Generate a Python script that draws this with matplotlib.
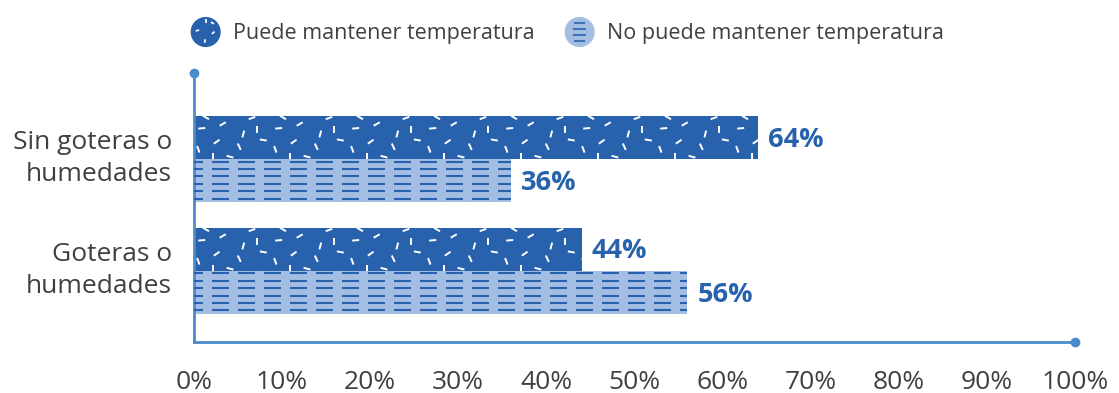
import matplotlib
matplotlib.use("Agg")
from matplotlib import pyplot as plt
from matplotlib.patches import Circle, Patch
from matplotlib.collections import LineCollection
from matplotlib.legend_handler import HandlerPatch
from matplotlib.transforms import ScaledTranslation
import numpy as np

plt.rcParams["font.family"] = ["Open Sans", "DejaVu Sans"]

categories = ["Sin goteras o\nhumedades", "Goteras o\nhumedades"]
puede = [64, 44]
no_puede = [36, 56]
series_names = ["Puede mantener temperatura", "No puede mantener temperatura"]
xticks = [0, 10, 20, 30, 40, 50, 60, 70, 80, 90, 100]

dark_blue = "#2862ad"
light_blue = "#a3bde3"
axis_blue = "#4a8bcb"
text_gray = "#404040"

W, H, DPI = 1119, 393, 100
fig = plt.figure(figsize=(W / DPI, H / DPI), dpi=DPI)
ax = fig.add_axes([194 / W, 1 - 342 / H, (1075 - 194) / W, (342 - 73) / H])

ymin, ymax = -0.634, 1.768
ax.set_xlim(0, 100)
ax.set_ylim(ymin, ymax)

# pixel -> data scale, used for the bar textures
px_x = 100 / (1075 - 194)
px_y = (ymax - ymin) / (342 - 73)

bar_h = 0.384
ypos = np.array([1.0, 0.0])

# little white strokes on the dark bars, one tile repeats along x
tile_w = 77
tile = [  # x, y (px from top of bar), angle in deg
    (7.7, 12.3, 5), (28.7, 8.0, 30), (49.3, 18.0, 75), (63.3, 13.3, 90),
    (4.3, 33.3, -70), (22.7, 25.7, 35), (45.3, 30.7, -65), (69.3, 24.0, -10),
    (19.3, 40.7, 90), (36.0, 40.7, -15), (58.0, 2.0, 20), (12.0, 1.5, -30),
]
stroke_len = 7.0


def dark_texture(bar):
    x0, y0 = bar.get_x(), bar.get_y()
    w, h = bar.get_width(), bar.get_height()
    top = y0 + h
    segs = []
    n_tiles = int(w / px_x / tile_w) + 2
    for k in range(n_tiles):
        for tx, ty, ang in tile:
            cx = x0 + (k * tile_w + tx) * px_x
            cy = top - ty * px_y
            dx = np.cos(np.radians(ang)) * stroke_len / 2
            dy = np.sin(np.radians(ang)) * stroke_len / 2
            segs.append([(cx - dx * px_x, cy - dy * px_y), (cx + dx * px_x, cy + dy * px_y)])
    lc = LineCollection(segs, colors="white", linewidths=1.4, zorder=3)
    ax.add_collection(lc)
    lc.set_clip_path(bar)


def light_texture(bar):
    x0, y0 = bar.get_x(), bar.get_y()
    w, h = bar.get_width(), bar.get_height()
    top = y0 + h
    segs = []
    row = 7.4
    dash, period = 17, 26
    n_cols = int(w / px_x / period) + 2
    r = 0
    while (2.5 + r * row) * px_y < h:
        yy = top - (2.5 + r * row) * px_y
        for c in range(n_cols):
            xa = x0 + (c * period - 8) * px_x
            segs.append([(xa, yy), (xa + dash * px_x, yy)])
        r += 1
    lc = LineCollection(segs, colors=dark_blue, linewidths=1.5, zorder=3)
    ax.add_collection(lc)
    lc.set_clip_path(bar)


bars1 = ax.barh(ypos + bar_h / 2, puede, height=bar_h, color=dark_blue, zorder=2)
bars2 = ax.barh(ypos - bar_h / 2, no_puede, height=bar_h, color=light_blue, zorder=2)
for b in bars1:
    dark_texture(b)
for b in bars2:
    light_texture(b)

for bars, vals in [(bars1, puede), (bars2, no_puede)]:
    for b, v in zip(bars, vals):
        ax.text(v + 10 * px_x, b.get_y() + b.get_height() / 2 - 2 * px_y, f"{v}%",
                ha="left", va="center", fontsize=19.5, fontweight="bold", color=dark_blue)

ax.set_yticks(ypos)
ax.set_yticklabels(categories, fontsize=19, color=text_gray, linespacing=1.36)
ax.set_xticks(xticks)
ax.set_xticklabels([f"{t}%" for t in xticks], fontsize=19, color=text_gray)
ax.tick_params(length=0, axis="y", pad=16)
ax.tick_params(length=0, axis="x", pad=20)
# nudge the two-line category labels up a bit
for lab in ax.get_yticklabels():
    lab.set_transform(lab.get_transform() + ScaledTranslation(0, 5 / 72, fig.dpi_scale_trans))

for s in ["top", "right"]:
    ax.spines[s].set_visible(False)
for s in ["left", "bottom"]:
    ax.spines[s].set_color(axis_blue)
    ax.spines[s].set_linewidth(2)
ax.plot([0], [ymax], "o", color=axis_blue, markersize=6, clip_on=False, zorder=5)
ax.plot([100], [ymin], "o", color=axis_blue, markersize=6, clip_on=False, zorder=5)


class CircleHandler(HandlerPatch):
    def create_artists(self, legend, orig_handle, xdescent, ydescent,
                       width, height, fontsize, trans):
        cx, cy = width / 2 - xdescent, height / 2 - ydescent
        r = min(width, height) / 2
        c = Circle((cx, cy), radius=r, facecolor=orig_handle.get_facecolor(),
                   edgecolor="none", transform=trans)
        if orig_handle.get_label() == series_names[0]:
            pts = [(-0.55, 0.1, 15), (0.5, -0.05, 40), (-0.05, -0.6, 80), (0.0, 0.75, 90),
                   (0.45, 0.6, -30)]
            segs = []
            for px, py, ang in pts:
                dx = np.cos(np.radians(ang)) * 0.12 * r
                dy = np.sin(np.radians(ang)) * 0.12 * r
                segs.append([(cx + px * r - dx, cy + py * r - dy), (cx + px * r + dx, cy + py * r + dy)])
            lc = LineCollection(segs, colors="white", linewidths=1.2, transform=trans)
        else:
            segs = []
            for py in [-0.6, -0.2, 0.2, 0.6]:
                half = 0.45 * np.sqrt(max(0.0, 1 - py ** 2))
                segs.append([(cx - half * r, cy + py * r), (cx + half * r, cy + py * r)])
            lc = LineCollection(segs, colors=dark_blue, linewidths=1.2, transform=trans)
        return [c, lc]


handles = [Patch(facecolor=dark_blue, label=series_names[0]),
           Patch(facecolor=light_blue, label=series_names[1])]
leg = fig.legend(handles=handles, loc="center left", bbox_to_anchor=(182 / W, 1 - 32 / H),
                 ncol=2, frameon=False, fontsize=15.5, handlelength=1.4, handleheight=1.9,
                 handletextpad=0.56, columnspacing=1.4, borderaxespad=0,
                 handler_map={Patch: CircleHandler()})
for t in leg.get_texts():
    t.set_color(text_gray)

fig.savefig("out.png", dpi=DPI)
